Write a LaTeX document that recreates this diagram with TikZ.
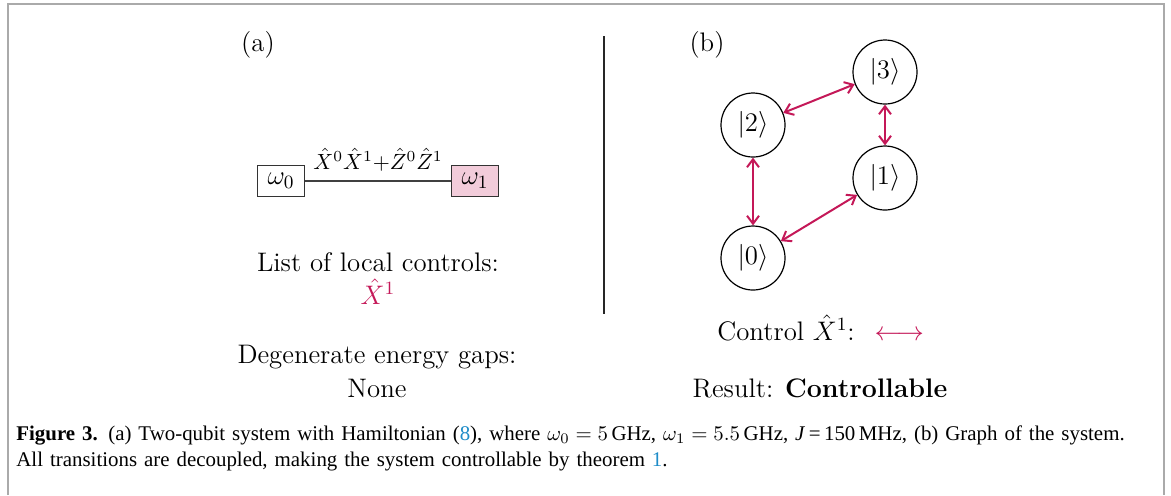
\RequirePackage{fix-cm}
\documentclass[tikz,border=0pt]{standalone}
\usepackage{fontspec}
\setmainfont{Latin Modern Roman}
\newfontfamily\capfont{Liberation Serif}
\usetikzlibrary{arrows.meta}
\definecolor{crim}{RGB}{196,24,88}
\definecolor{pinkfill}{RGB}{242,204,218}
\definecolor{linkblue}{RGB}{30,140,200}
\definecolor{framegray}{RGB}{170,170,170}
\tikzset{
  txt/.style={font=\fontsize{13.4}{16}\selectfont, inner sep=0pt},
  qbox/.style={draw=black!80, line width=0.5pt, minimum width=23.5pt, minimum height=15.5pt, inner sep=0pt, font=\fontsize{13.4}{16}\selectfont},
  state/.style={draw, circle, line width=0.6pt, minimum size=32pt, inner sep=0pt, font=\fontsize{13.4}{16}\selectfont},
  coup/.style={crim, line width=1pt, {Straight Barb[length=4pt,width=6pt]}-{Straight Barb[length=4pt,width=6pt]}}
}
\begin{document}
\begin{tikzpicture}[x=0.5pt,y=-0.5pt]
\useasboundingbox (0,0) rectangle (1171,495);
% frame
\draw[framegray, line width=0.8pt] (8,495) -- (8,4) -- (1164,4) -- (1164,495);
% (a) panel
\node[txt] (la) at (258,45) {(a)};
\node[qbox] (w0) at (281,181) {$\omega_0$};
\node[qbox, fill=pinkfill] (w1) at (475,181) {$\omega_1$};
\draw[line width=0.6pt, black!75] (w0) -- (w1);
\node[inner sep=0pt, font=\fontsize{11}{13}\selectfont] (cl) at (378,160) {$\hat{X}^0\hat{X}^1{+}\hat{Z}^0\hat{Z}^1$};
\node[txt] (lc) at (378,262) {List of local controls:};
\node[txt, crim] (xc) at (378,292) {$\hat{X}^1$};
\node[txt] (dg) at (377,357) {Degenerate energy gaps:};
\node[txt] (no) at (377,388) {None};
% divider
\coordinate (vt) at (604,36);
\coordinate (vb) at (604,314);
\draw[line width=1.1pt, black!85] (vt) -- (vb);
% (b) panel
\node[txt] (lb) at (707,45) {(b)};
\node[state] (s3) at (885,72) {$|3\rangle$};
\node[state] (s2) at (753,125) {$|2\rangle$};
\node[state] (s1) at (885,178) {$|1\rangle$};
\node[state] (s0) at (753,258) {$|0\rangle$};
\draw[coup] (s2) -- (s3);
\draw[coup] (s3) -- (s1);
\draw[coup] (s2) -- (s0);
\draw[coup] (s0) -- (s1);
\node[txt, anchor=west] (ctl) at (717,328) {Control $\hat{X}^1$:\hspace{10pt}{\color{crim}$\longleftrightarrow$}};
\node[txt] (res) at (820,388) {Result: \textbf{Controllable}};
% caption
\node[anchor=north west, inner sep=0pt, text width=570pt, align=left, font=\capfont\fontsize{10.45}{13}\selectfont] (cap) at (16,425)
{\textbf{Figure 3.} (a) Two-qubit system with Hamiltonian ({\color{linkblue}8}), where $\omega_0=5\,$GHz, $\omega_1=5.5\,$GHz, \textit{J}\,=\,150\,MHz, (b) Graph of the system.\\
All transitions are decoupled, making the system controllable by theorem {\color{linkblue}1}.};
\end{tikzpicture}
\end{document}
